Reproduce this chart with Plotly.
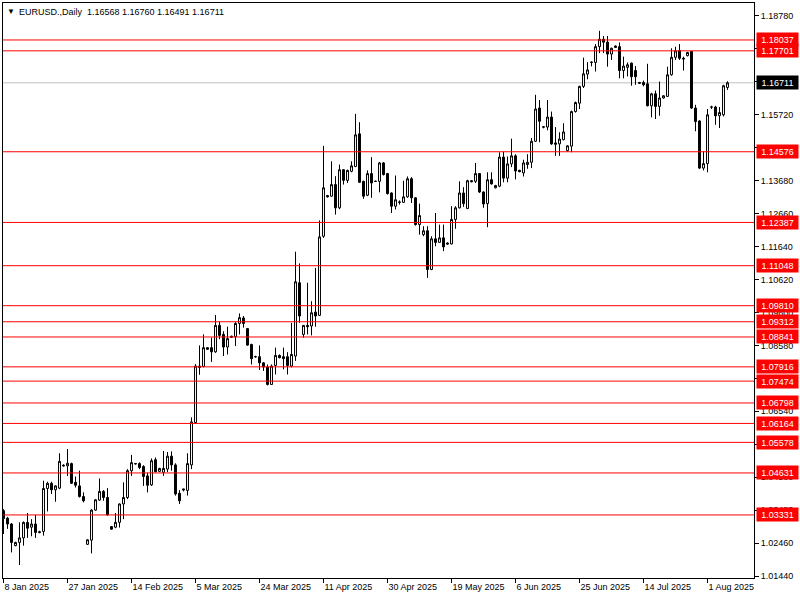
import plotly.graph_objects as go

# Daily bars (broker feed incl. short Sunday sessions), 8 Jan 2025 .. 7 Aug 2025
opens = [
    1.0346, 1.0323, 1.0305, 1.0238, 1.0248, 1.0262, 1.0310, 1.0295, 1.0305, 1.0281,
    1.0282, 1.0415, 1.0431, 1.0411, 1.0416, 1.0487, 1.0485, 1.0492, 1.0434, 1.0423,
    1.0390, 1.0242, 1.0255, 1.0348, 1.0379, 1.0406, 1.0387, 1.0297, 1.0295, 1.0310,
    1.0367, 1.0387, 1.0470, 1.0491, 1.0492, 1.0483, 1.0454, 1.0426, 1.0504, 1.0468,
    1.0465, 1.0475, 1.0515, 1.0488, 1.0400, 1.0410, 1.0409, 1.0488, 1.0619, 1.0794,
    1.0793, 1.0851, 1.0851, 1.0838, 1.0920, 1.0892, 1.0853, 1.0883, 1.0885, 1.0926,
    1.0943, 1.0910, 1.0861, 1.0823, 1.0823, 1.0804, 1.0791, 1.0737, 1.0796, 1.0827,
    1.0823, 1.0823, 1.0794, 1.0825, 1.1052, 1.0892, 1.0920, 1.0918, 1.0961, 1.0951,
    1.1196, 1.1322, 1.1320, 1.1356, 1.1284, 1.1402, 1.1369, 1.1397, 1.1412, 1.1513,
    1.1366, 1.1323, 1.1390, 1.1366, 1.1366, 1.1423, 1.1390, 1.1330, 1.1289, 1.1301,
    1.1301, 1.1318, 1.1374, 1.1315, 1.1232, 1.1201, 1.1213, 1.1093, 1.1188, 1.1177,
    1.1191, 1.1175, 1.1172, 1.1248, 1.1284, 1.1330, 1.1282, 1.1368, 1.1366, 1.1390,
    1.1333, 1.1297, 1.1371, 1.1346, 1.1351, 1.1441, 1.1376, 1.1420, 1.1445, 1.1400,
    1.1392, 1.1418, 1.1425, 1.1490, 1.1593, 1.1535, 1.1534, 1.1565, 1.1485, 1.1482,
    1.1495, 1.1461, 1.1475, 1.1582, 1.1608, 1.1660, 1.1698, 1.1734, 1.1734, 1.1783,
    1.1806, 1.1797, 1.1760, 1.1785, 1.1783, 1.1709, 1.1719, 1.1732, 1.1709, 1.1672,
    1.1672, 1.1668, 1.1600, 1.1637, 1.1598, 1.1624, 1.1629, 1.1696, 1.1750, 1.1771,
    1.1747, 1.1755, 1.1768, 1.1593, 1.1553, 1.1407, 1.1421, 1.1596, 1.1596, 1.1569,
    1.1572, 1.16568,
]
highs = [
    1.0351, 1.0327, 1.0308, 1.0250, 1.0310, 1.0313, 1.0339, 1.0320, 1.0333, 1.0284,
    1.0439, 1.0436, 1.0436, 1.0425, 1.0524, 1.0490, 1.0537, 1.0495, 1.0452, 1.0470,
    1.0403, 1.0258, 1.0351, 1.0382, 1.0446, 1.0410, 1.0416, 1.0299, 1.0339, 1.0369,
    1.0434, 1.0475, 1.0519, 1.0494, 1.0496, 1.0487, 1.0464, 1.0508, 1.0511, 1.0479,
    1.0531, 1.0528, 1.0530, 1.0493, 1.0410, 1.0414, 1.0524, 1.0635, 1.0800, 1.0858,
    1.0892, 1.0853, 1.0882, 1.0952, 1.0932, 1.0902, 1.0916, 1.0888, 1.0930, 1.0957,
    1.0949, 1.0912, 1.0863, 1.0826, 1.0858, 1.0806, 1.0799, 1.0799, 1.0851, 1.0830,
    1.0851, 1.0837, 1.0928, 1.1148, 1.1112, 1.0920, 1.1052, 1.0995, 1.1098, 1.1245,
    1.1476, 1.1324, 1.1428, 1.1382, 1.1418, 1.1404, 1.1402, 1.1428, 1.1575, 1.1549,
    1.1368, 1.1400, 1.1441, 1.1368, 1.1426, 1.1426, 1.1392, 1.1332, 1.1384, 1.1307,
    1.1368, 1.1381, 1.1379, 1.1316, 1.1297, 1.1227, 1.1227, 1.1196, 1.1268, 1.1232,
    1.1232, 1.1177, 1.1289, 1.1289, 1.1366, 1.1348, 1.1371, 1.1370, 1.1423, 1.1392,
    1.1335, 1.1394, 1.1394, 1.1355, 1.1456, 1.1458, 1.1443, 1.1498, 1.1450, 1.1402,
    1.1433, 1.1450, 1.1500, 1.1634, 1.1618, 1.1537, 1.1618, 1.1582, 1.1534, 1.1518,
    1.1546, 1.1478, 1.1585, 1.1613, 1.1662, 1.1749, 1.1735, 1.1737, 1.1791, 1.1832,
    1.1816, 1.1816, 1.1780, 1.1787, 1.1796, 1.1752, 1.1734, 1.1734, 1.1723, 1.1674,
    1.1678, 1.1730, 1.1640, 1.1647, 1.1675, 1.1633, 1.1721, 1.1778, 1.1783, 1.1791,
    1.1752, 1.1767, 1.1770, 1.1603, 1.1555, 1.1459, 1.1590, 1.1600, 1.1600, 1.1596,
    1.1665, 1.16760,
]
lows = [
    1.0274, 1.0290, 1.0217, 1.0236, 1.0178, 1.0238, 1.0262, 1.0267, 1.0262, 1.0276,
    1.0269, 1.0344, 1.0398, 1.0374, 1.0413, 1.0483, 1.0454, 1.0429, 1.0418, 1.0387,
    1.0372, 1.0240, 1.0214, 1.0346, 1.0377, 1.0377, 1.0331, 1.0287, 1.0292, 1.0294,
    1.0320, 1.0382, 1.0454, 1.0489, 1.0475, 1.0423, 1.0403, 1.0423, 1.0465, 1.0466,
    1.0454, 1.0466, 1.0470, 1.0393, 1.0367, 1.0406, 1.0393, 1.0475, 1.0615, 1.0767,
    1.0790, 1.0844, 1.0807, 1.0835, 1.0877, 1.0825, 1.0830, 1.0881, 1.0856, 1.0892,
    1.0913, 1.0857, 1.0799, 1.0820, 1.0782, 1.0779, 1.0734, 1.0737, 1.0768, 1.0818,
    1.0784, 1.0768, 1.0790, 1.0810, 1.0928, 1.0882, 1.0892, 1.0889, 1.0916, 1.0949,
    1.1191, 1.1316, 1.1319, 1.1263, 1.1280, 1.1356, 1.1361, 1.1394, 1.1410, 1.1362,
    1.1312, 1.1320, 1.1315, 1.1364, 1.1332, 1.1384, 1.1325, 1.1268, 1.1279, 1.1294,
    1.1299, 1.1315, 1.1299, 1.1229, 1.1201, 1.1196, 1.1067, 1.1091, 1.1165, 1.1176,
    1.1150, 1.1170, 1.1171, 1.1219, 1.1282, 1.1287, 1.1280, 1.1363, 1.1361, 1.1330,
    1.1284, 1.1224, 1.1356, 1.1344, 1.1348, 1.1363, 1.1363, 1.1410, 1.1372, 1.1394,
    1.1381, 1.1405, 1.1407, 1.1488, 1.1487, 1.1530, 1.1524, 1.1479, 1.1445, 1.1445,
    1.1493, 1.1458, 1.1456, 1.1579, 1.1590, 1.1655, 1.1682, 1.1722, 1.1706, 1.1763,
    1.1763, 1.1721, 1.1742, 1.1780, 1.1685, 1.1685, 1.1691, 1.1662, 1.1665, 1.1668,
    1.1660, 1.1598, 1.1564, 1.1559, 1.1569, 1.1622, 1.1627, 1.1693, 1.1742, 1.1742,
    1.1709, 1.1753, 1.1590, 1.1521, 1.1404, 1.1400, 1.1394, 1.1590, 1.1541, 1.1531,
    1.1567, 1.16491,
]
closes = [
    1.0322, 1.0305, 1.0248, 1.0248, 1.0262, 1.0310, 1.0292, 1.0305, 1.0279, 1.0279,
    1.0415, 1.0431, 1.0411, 1.0423, 1.0499, 1.0485, 1.0493, 1.0431, 1.0425, 1.0390,
    1.0377, 1.0256, 1.0348, 1.0380, 1.0406, 1.0387, 1.0333, 1.0289, 1.0310, 1.0367,
    1.0387, 1.0470, 1.0495, 1.0492, 1.0480, 1.0452, 1.0425, 1.0501, 1.0467, 1.0477,
    1.0477, 1.0515, 1.0488, 1.0398, 1.0377, 1.0413, 1.0492, 1.0621, 1.0794, 1.0790,
    1.0851, 1.0846, 1.0838, 1.0920, 1.0889, 1.0853, 1.0879, 1.0886, 1.0926, 1.0944,
    1.0926, 1.0859, 1.0817, 1.0823, 1.0804, 1.0791, 1.0737, 1.0794, 1.0827, 1.0820,
    1.0817, 1.0796, 1.0830, 1.1055, 1.0949, 1.0920, 1.0916, 1.0959, 1.0949, 1.1194,
    1.1346, 1.1318, 1.1356, 1.1284, 1.1402, 1.1369, 1.1400, 1.1414, 1.1510, 1.1363,
    1.1320, 1.1390, 1.1361, 1.1366, 1.1423, 1.1387, 1.1328, 1.1289, 1.1309, 1.1302,
    1.1318, 1.1374, 1.1315, 1.1232, 1.1260, 1.1213, 1.1093, 1.1188, 1.1177, 1.1191,
    1.1163, 1.1172, 1.1248, 1.1284, 1.1330, 1.1297, 1.1368, 1.1365, 1.1390, 1.1333,
    1.1296, 1.1371, 1.1358, 1.1353, 1.1441, 1.1376, 1.1420, 1.1445, 1.1398, 1.1396,
    1.1423, 1.1425, 1.1490, 1.1590, 1.1552, 1.1534, 1.1565, 1.1482, 1.1481, 1.1497,
    1.1519, 1.1476, 1.1582, 1.1610, 1.1660, 1.1699, 1.1711, 1.1735, 1.1783, 1.1806,
    1.1797, 1.1760, 1.1778, 1.1781, 1.1709, 1.1723, 1.1727, 1.1690, 1.1690, 1.1670,
    1.1665, 1.1600, 1.1637, 1.1598, 1.1624, 1.1631, 1.1696, 1.1750, 1.1770, 1.1747,
    1.1745, 1.1765, 1.1593, 1.1551, 1.1407, 1.1421, 1.1572, 1.1596, 1.1569, 1.1579,
    1.1662, 1.16711,
]

# Date labels shown under the chart, every 16 bars starting at bar 0
date_tick_bars = [0, 16, 32, 48, 64, 80, 96, 112, 128, 144, 160, 176]
date_tick_labels = ["8 Jan 2025", "27 Jan 2025", "14 Feb 2025", "5 Mar 2025",
                    "24 Mar 2025", "11 Apr 2025", "30 Apr 2025", "19 May 2025",
                    "6 Jun 2025", "25 Jun 2025", "14 Jul 2025", "1 Aug 2025"]

# Horizontal support / resistance levels
levels = [1.18037, 1.17701, 1.14576, 1.12387, 1.11048, 1.09810, 1.09312, 1.08841,
          1.07916, 1.07474, 1.06798, 1.06164, 1.05578, 1.04631, 1.03331]
last_price = 1.16711
header_text = "EURUSD.,Daily  1.16568 1.16760 1.16491 1.16711"

FONT = "Liberation Sans, Arial, sans-serif"
bars = list(range(len(opens)))

fig = go.Figure()
fig.add_trace(go.Candlestick(
    x=bars, open=opens, high=highs, low=lows, close=closes,
    increasing=dict(line=dict(color="black", width=1), fillcolor="white"),
    decreasing=dict(line=dict(color="black", width=1), fillcolor="black"),
    whiskerwidth=0, showlegend=False, hoverinfo="skip",
))

shapes = []
annotations = []
for lv in levels:
    shapes.append(dict(type="line", xref="paper", x0=0, x1=1, yref="y", y0=lv, y1=lv,
                       line=dict(color="#FF0000", width=1), layer="above"))
    annotations.append(dict(xref="paper", x=1, xanchor="left", xshift=2,
                            yref="y", y=lv, yanchor="middle",
                            text=f"{lv:.5f}", showarrow=False,
                            bgcolor="#FF0000", font=dict(family=FONT, size=9, color="white"),
                            width=39, height=11, borderpad=1, align="center"))
shapes.append(dict(type="line", xref="paper", x0=0, x1=1, yref="y", y0=last_price, y1=last_price,
                   line=dict(color="#C0C0C0", width=1), layer="below"))
annotations.append(dict(xref="paper", x=1, xanchor="left", xshift=2,
                        yref="y", y=last_price, yanchor="middle",
                        text=f"{last_price:.5f}", showarrow=False,
                        bgcolor="#000000", font=dict(family=FONT, size=9, color="white"),
                        width=39, height=11, borderpad=1, align="center"))
annotations.append(dict(xref="paper", yref="paper", x=0, y=1, xanchor="left", yanchor="top",
                        xshift=2, yshift=-2, text="▼", showarrow=False,
                        font=dict(family=FONT, size=8, color="black")))
annotations.append(dict(xref="paper", yref="paper", x=0, y=1, xanchor="left", yanchor="top",
                        xshift=14, yshift=-2, text=header_text, showarrow=False,
                        font=dict(family=FONT, size=9, color="black")))

fig.update_layout(
    width=800, height=600,
    margin=dict(l=3, r=46, t=3, b=22, autoexpand=False),
    paper_bgcolor="white", plot_bgcolor="white",
    shapes=shapes, annotations=annotations,
    xaxis=dict(range=[-0.125, 187.625], rangeslider=dict(visible=False), automargin=False,
               showgrid=False, zeroline=False, showline=True, linecolor="black",
               linewidth=1, mirror=True, ticks="outside", ticklen=4, tickcolor="black",
               tickvals=date_tick_bars, ticktext=date_tick_labels,
               ticklabelposition="outside right",
               tickfont=dict(family=FONT, size=9, color="black")),
    yaxis=dict(range=[1.01378, 1.19182], side="right", showgrid=False, zeroline=False,
               automargin=False,
               showline=True, linecolor="black", linewidth=1, mirror=True,
               ticks="outside", ticklen=4, tickcolor="black",
               tick0=1.0144, dtick=0.0102, tickformat=".5f",
               tickfont=dict(family=FONT, size=9, color="black")),
)

fig.write_html("out.html", config={"displayModeBar": False, "staticPlot": True},
               post_script="document.body.style.margin='0';document.body.style.overflow='hidden';")
